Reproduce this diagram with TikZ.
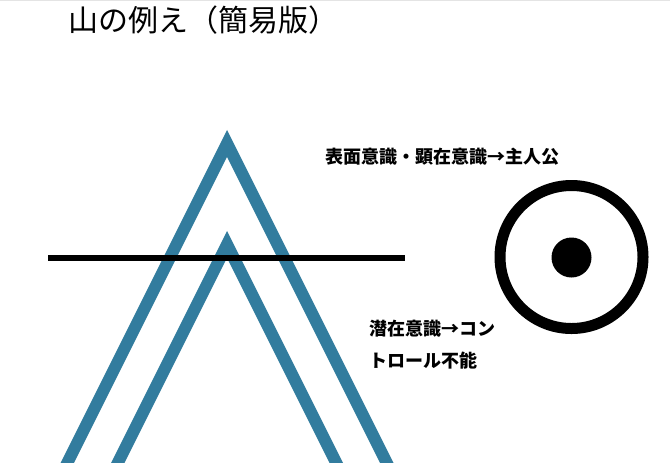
\documentclass[tikz,border=0pt]{standalone}
\usepackage{fontspec}
\setmainfont{Noto Sans CJK JP}
\definecolor{mountainblue}{RGB}{50,124,158}
\tikzset{
  mountain/.style={draw=mountainblue, line width=9pt, miter limit=10},
  caption/.style={anchor=west, inner sep=0pt, font=\fontsize{13.5pt}{16pt}\selectfont\bfseries}
}
\begin{document}
\begin{tikzpicture}[x=0.75pt,y=0.75pt,yscale=-1,xscale=1]
\useasboundingbox (0,0) rectangle (670,462);
\clip (0,0) rectangle (670,462);

%Straight Lines [top edge]
\draw [color={rgb, 255:red, 228; green, 228; blue, 228 }, line width=0.75] (0,0.5) -- (670,0.5) ;

%Shape: outer mountain
\draw [mountain] (63.7,470) -- (227,143.4) -- (390.3,470) ;
%Shape: inner mountain
\draw [mountain] (114.2,470) -- (227,244.4) -- (339.8,470) ;
%Straight Lines [horizon]
\draw [line width=4.5pt] (48,257.5) -- (405,257.5) ;

%Shape: Circle [ring]
\draw [line width=8.25pt] (571.5,257) circle (71.5) ;
%Shape: Circle [dot]
\fill (571.5,257.5) circle (20) ;

% Text Node
\node (title) [anchor=west, inner sep=0pt, font=\fontsize{22.5pt}{27pt}\selectfont] at (68,20.5) {山の例え（簡易版）};
% Text Node
\node (surface) [caption] at (325,157) {表面意識・顕在意識→主人公};
% Text Node
\node (latent) [caption] at (369,328.5) {潜在意識→コン};
% Text Node
\node (latentrest) [caption] at (369,360.5) {トロール不能};

\end{tikzpicture}
\end{document}
